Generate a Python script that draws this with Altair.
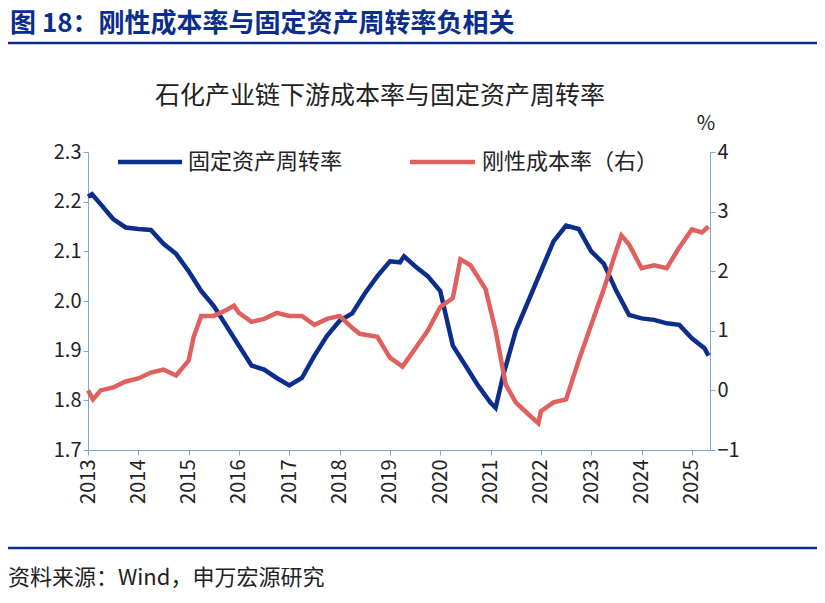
import altair as alt
import pandas as pd

# 固定资产周转率 (左轴)
turn_t = [2013.0, 2013.08, 2013.25, 2013.5, 2013.75, 2014.0, 2014.25, 2014.5, 2014.75, 2015.0, 2015.25,
          2015.5, 2015.75, 2016.0, 2016.25, 2016.5, 2016.75, 2017.0, 2017.25, 2017.5, 2017.75,
          2018.0, 2018.25, 2018.5, 2018.75, 2019.0, 2019.2, 2019.28, 2019.5, 2019.75, 2020.0,
          2020.25, 2020.5, 2020.75, 2021.0, 2021.1, 2021.25, 2021.5, 2021.75, 2022.0, 2022.25,
          2022.5, 2022.75, 2023.0, 2023.25, 2023.5, 2023.75, 2024.0, 2024.25, 2024.5, 2024.75,
          2025.0, 2025.25, 2025.33]
turn_v = [2.21, 2.215, 2.195, 2.165, 2.148, 2.145, 2.143, 2.115, 2.095, 2.06, 2.02,
          1.99, 1.95, 1.91, 1.87, 1.862, 1.845, 1.83, 1.845, 1.89, 1.93,
          1.96, 1.975, 2.015, 2.05, 2.08, 2.078, 2.09, 2.07, 2.05, 2.02,
          1.91, 1.87, 1.83, 1.795, 1.785, 1.85, 1.94, 2.0, 2.06, 2.12,
          2.152, 2.145, 2.10, 2.075, 2.02, 1.972, 1.965, 1.962, 1.955, 1.952,
          1.925, 1.905, 1.89]

# 刚性成本率 (右轴, %)
cost_t = [2013.0, 2013.1, 2013.25, 2013.5, 2013.75, 2014.0, 2014.25, 2014.5, 2014.75, 2015.0, 2015.1,
          2015.25, 2015.5, 2015.75, 2015.9, 2016.0, 2016.25, 2016.5, 2016.75, 2017.0, 2017.25,
          2017.5, 2017.75, 2018.0, 2018.25, 2018.4, 2018.75, 2019.0, 2019.25, 2019.5, 2019.75,
          2020.0, 2020.25, 2020.4, 2020.6, 2020.9, 2021.1, 2021.3, 2021.5, 2021.75, 2021.95,
          2022.0, 2022.25, 2022.5, 2022.75, 2023.0, 2023.25, 2023.5, 2023.6, 2023.75, 2024.0,
          2024.25, 2024.5, 2024.75, 2025.0, 2025.2, 2025.33]
cost_v = [0.0, -0.15, 0.0, 0.05, 0.15, 0.2, 0.3, 0.35, 0.25, 0.5, 0.9,
          1.25, 1.25, 1.35, 1.42, 1.3, 1.15, 1.2, 1.3, 1.25, 1.25,
          1.1, 1.2, 1.25, 1.05, 0.95, 0.9, 0.55, 0.4, 0.7, 1.0,
          1.4, 1.55, 2.2, 2.1, 1.7, 1.0, 0.1, -0.2, -0.4, -0.55,
          -0.35, -0.2, -0.15, 0.5, 1.1, 1.7, 2.35, 2.6, 2.45, 2.05,
          2.1, 2.05, 2.4, 2.7, 2.65, 2.75]

FONT = "Noto Sans CJK SC"
BLUE = "#0b2d8c"
RED = "#e06060"
AX = "#7fa8d8"

turn = pd.DataFrame({"t": turn_t, "v": turn_v})
cost = pd.DataFrame({"t": cost_t, "v": cost_v})

xenc = alt.X("t:Q", scale=alt.Scale(domain=[2013, 2025.36], nice=False),
             axis=alt.Axis(values=list(range(2013, 2026)), format="d", labelAngle=270,
                           labelAlign="right", labelBaseline="middle", labelPadding=4,
                           grid=False, title=None, labelFontSize=20, domainColor=AX,
                           tickColor=AX, labelColor="#222", labelFont=FONT))

left = alt.Chart(turn).mark_line(color=BLUE, strokeWidth=4.5).encode(
    x=xenc,
    y=alt.Y("v:Q", scale=alt.Scale(domain=[1.7, 2.3], nice=False),
            axis=alt.Axis(values=[1.7, 1.8, 1.9, 2.0, 2.1, 2.2, 2.3], format=".1f", grid=False,
                          title=None, labelFontSize=20, domainColor=AX, tickColor=AX,
                          labelColor="#222", labelFont=FONT)))

right = alt.Chart(cost).mark_line(color=RED, strokeWidth=4.5).encode(
    x=xenc,
    y=alt.Y("v:Q", scale=alt.Scale(domain=[-1, 4], nice=False),
            axis=alt.Axis(orient="right", values=[-1, 0, 1, 2, 3, 4], grid=False, title=None,
                          labelFontSize=20, domainColor=AX, tickColor=AX, labelColor="#222",
                          labelFont=FONT)))

one = pd.DataFrame({"a": [0]})


def txt(s, x, y, size, color="#222", weight="normal", align="left"):
    return alt.Chart(one).mark_text(text=s, font=FONT, fontSize=size, color=color,
                                    fontWeight=weight, align=align, baseline="middle").encode(
        x=alt.value(x), y=alt.value(y))


def rule(x1, x2, y, color, w):
    return alt.Chart(one).mark_rule(color=color, strokeWidth=w).encode(
        x=alt.value(x1), x2=alt.value(x2), y=alt.value(y))


deco = (
    txt("图 18：刚性成本率与固定资产周转率负相关", -78, -128, 26, "#0b2d8c", "bold")
    + rule(-80, 730, -109, "#0b2d8c", 2.5)
    + txt("石化产业链下游成本率与固定资产周转率", 292, -56, 25, align="center")
    + txt("%", 618, -28, 20, align="center")
    + rule(30, 94, 10, BLUE, 4.5)
    + txt("固定资产周转率", 100, 10, 22)
    + rule(322, 387, 10, RED, 4.5)
    + txt("刚性成本率（右）", 394, 10, 22)
    + rule(-80, 730, 396, "#0b2d8c", 2.5)
    + txt("资料来源：Wind，申万宏源研究", -80, 426, 22)
)

chart = alt.layer(left, right, deco).resolve_scale(y="independent").properties(
    width=622, height=298,
    autosize=alt.AutoSizeParams(type="none"),
    padding={"left": 80, "top": 144, "right": 107, "bottom": 140},
).configure_view(stroke=None)

chart.save("out.html", embed_options={"renderer": "svg", "actions": False})
